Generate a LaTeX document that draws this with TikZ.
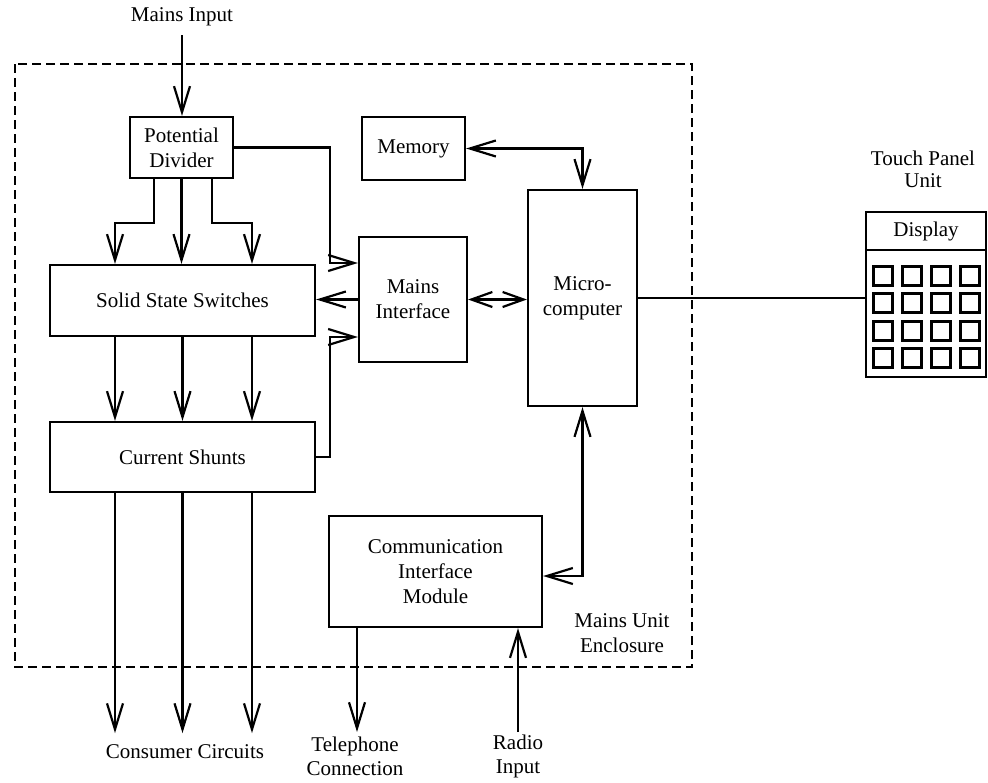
\documentclass[tikz,border=0pt]{standalone}
\usepackage{fontspec}
\setmainfont{Liberation Serif}
\usetikzlibrary{arrows.meta,calc}
\begin{document}
\begin{tikzpicture}[x=1pt,y=-1pt,
  line width=2.2pt,
  font=\fontsize{21}{25}\selectfont,
  blk/.style={draw, rectangle, inner sep=0pt, align=center},
  lbl/.style={inner sep=0pt, align=center},
  arr/.style={-{Straight Barb[length=26pt,width=16pt]}},
  darr/.style={{Straight Barb[length=26pt,width=16pt]}-{Straight Barb[length=26pt,width=16pt]}},
  sdarr/.style={{Straight Barb[length=21pt,width=15pt]}-{Straight Barb[length=21pt,width=15pt]}},
  encl/.style={dash pattern=on 9pt off 5pt},
  key/.style={draw, rectangle, minimum size=19pt, inner sep=0pt}]

\useasboundingbox (0,0) rectangle (988,782);

% enclosure of the mains unit
\draw[encl] (15,64) rectangle (692,667);

% blocks
\node[blk, minimum width=103pt, minimum height=61pt]  (pd)  at (181.5,147.5) {Potential\\Divider};
\node[blk, minimum width=265pt, minimum height=71pt]  (sss) at (182.5,300.5) {Solid State Switches};
\node[blk, minimum width=265pt, minimum height=70pt]  (cs)  at (182.5,457)   {Current Shunts};
\node[blk, minimum width=108pt, minimum height=125pt] (mi)  at (413,299.5)   {Mains\\Interface};
\node[blk, minimum width=103pt, minimum height=63pt]  (mem) at (413.5,148.5) {Memory};
\node[blk, minimum width=109pt, minimum height=216pt] (mc)  at (582.5,298)   {Micro-\\computer};
\node[blk, minimum width=213pt, minimum height=111pt] (cim) at (435.5,571.5) {Communication\\Interface\\Module};

% touch panel unit
\node[blk, minimum width=120pt, minimum height=165pt] (tp) at (926,294.5) {};
\draw ($(tp.north west)+(0,39)$) -- ($(tp.north east)+(0,39)$);
\node[lbl] (disp) at (926,231.5) {Display};
\foreach \cx/\i in {883/1,912/2,941/3,970/4}
  \foreach \cy/\j in {276/1,303/2,331/3,358/4}
    \node[key] (k\i\j) at (\cx,\cy) {};

% outside labels
\node[lbl] (min)  at (182,17)  {Mains Input};
\node[lbl, font=\fontsize{21}{22}\selectfont] (tpu) at (923,169) {Touch Panel\\Unit};
\node[lbl] (mue)  at (622,633) {Mains Unit\\Enclosure};
\node[lbl] (cc)   at (185,752) {Consumer Circuits};
\node[lbl, font=\fontsize{21}{24}\selectfont] (tel) at (355,756) {Telephone\\Connection};
\node[lbl, font=\fontsize{21}{24}\selectfont] (rad) at (518,756) {Radio\\Input};

\coordinate (mainsin) at (182,35);
\coordinate (telout)  at (357,732);
\coordinate (radin)   at (518,732);

% mains input
\draw[arr] (mainsin) -- (mainsin |- pd.north);

% potential divider to switches
\draw[arr] ($(pd.south)+(-27.5,0)$) -- ++(0,44) -| ($(sss.north)+(-67.5,0)$);
\draw[arr] (pd.south) -- (pd.south |- sss.north);
\draw[arr] ($(pd.south)+(30.5,0)$) -- ++(0,44) -| ($(sss.north)+(69.5,0)$);

% potential divider to mains interface
\draw[arr] (pd.east) -| ($(mi.west)+(-28,-36.5)$) -- ($(mi.west)+(0,-36.5)$);

% mains interface to switches
\draw[arr] (mi.west) -- (mi.west -| sss.east);

% current shunts to mains interface
\draw[arr] (cs.east) -| ($(mi.west)+(-28,37.5)$) -- ($(mi.west)+(0,37.5)$);

% switches to shunts
\foreach \dx in {-67.5,0,69.5}
  \draw[arr] ($(sss.south)+(\dx,0)$) -- ($(cs.north)+(\dx,0)$);

% shunts to consumer circuits
\foreach \dx in {-67.5,0,69.5}
  \draw[arr] ($(cs.south)+(\dx,0)$) -- ($(cs.south)+(\dx,240)$);

% microcomputer links
\draw[sdarr] (mi.east) -- (mi.east -| mc.west);
\draw[darr] (mem.east) -| (mc.north);
\draw (mc.east) -- (mc.east -| tp.west);
\draw[darr] ($(cim.east)+(0,4.5)$) -| (mc.south);

% communication interface
\draw[arr] (cim.south -| telout) -- (telout);
\draw[arr] (radin) -- (radin |- cim.south);

\end{tikzpicture}
\end{document}
